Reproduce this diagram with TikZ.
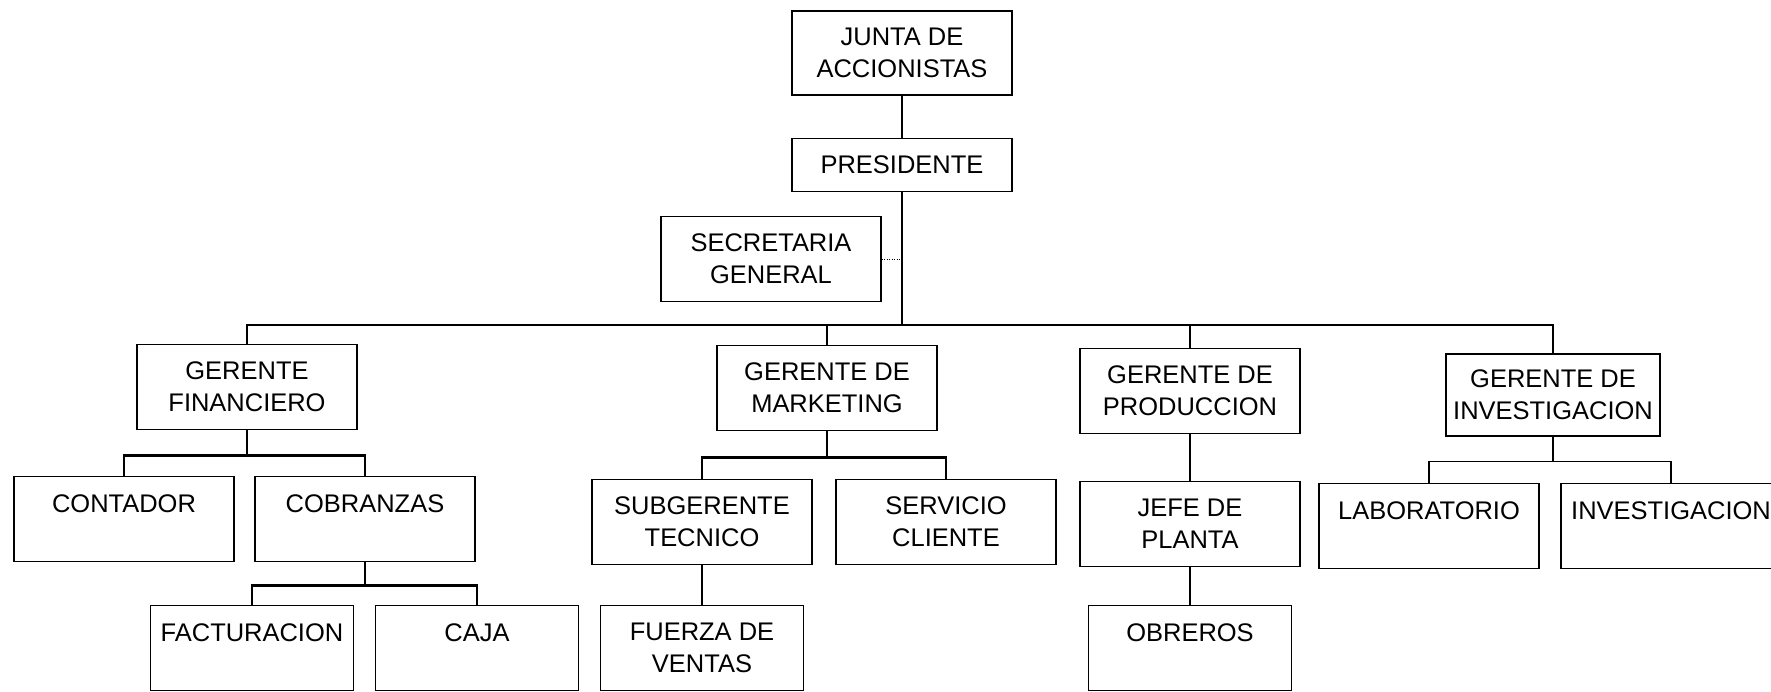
\documentclass[tikz,border=0pt]{standalone}
\usepackage{fontspec}
\setmainfont{Liberation Sans}

\begin{document}
\begin{tikzpicture}[x=0.02cm, y=-0.02cm,
    cuadro/.style={draw, line width=0.9pt, align=center, inner sep=0pt,
      minimum width=4.4cm, minimum height=1.7cm,
      font=\fontsize{14.5}{18}\selectfont},
    linea/.style={line width=0.8pt},
    barra/.style={line width=1.6pt}]

    \useasboundingbox (0,0) rectangle (1771,692);

    % Nivel superior
    \node[cuadro, minimum height=1.68cm] (junta) at (902,53) {JUNTA DE\\ACCIONISTAS};
    \node[cuadro, minimum height=1.06cm] (pres) at (902,165) {PRESIDENTE};
    \node[cuadro] (secre) at (771,259) {SECRETARIA\\GENERAL};

    % Gerencias
    \node[cuadro] (gfin) at (247,387) {GERENTE\\FINANCIERO};
    \node[cuadro] (gmkt) at (827,388) {GERENTE DE\\MARKETING};
    \node[cuadro] (gprod) at (1190,391) {GERENTE DE\\PRODUCCION};
    \node[cuadro, minimum width=4.28cm, minimum height=1.64cm] (ginv) at (1553,395) {GERENTE DE\\INVESTIGACION};

    % Departamentos
    \node[cuadro] (cont) at (124,519) {CONTADOR\\\mbox{}};
    \node[cuadro] (cobr) at (365,519) {COBRANZAS\\\mbox{}};
    \node[cuadro] (subg) at (702,522) {SUBGERENTE\\TECNICO};
    \node[cuadro] (serv) at (946,522) {SERVICIO\\CLIENTE};
    \node[cuadro] (jefe) at (1190,524) {JEFE DE\\PLANTA};
    \node[cuadro] (lab) at (1429,526) {LABORATORIO\\\mbox{}};
    \node[cuadro] (inv) at (1671,526) {INVESTIGACION\\\mbox{}};

    % Secciones
    \def\ancho{4.06cm}
    \node[cuadro, minimum width=\ancho] (fact) at (252,648) {FACTURACION\\\mbox{}};
    \node[cuadro, minimum width=\ancho] (caja) at (477,648) {CAJA\\\mbox{}};
    \node[cuadro, minimum width=\ancho] (fuerza) at (702,648) {FUERZA DE\\VENTAS};
    \node[cuadro, minimum width=\ancho] (obre) at (1190,648) {OBREROS\\\mbox{}};

    % Tronco
    \coordinate (b) at (0,325);
    \draw[linea] (junta) -- (pres);
    \draw[linea] (pres.south) -- (pres.south |- b) coordinate (nudo);
    \draw[densely dotted] (secre.east) -- (secre.east -| nudo);

    % Barra de gerencias
    \draw[barra] (gfin.north) -- (gfin.north |- b) -- (nudo);
    \draw[linea] (nudo) -| (ginv.north);
    \draw[linea] (gmkt.north) -- (gmkt.north |- b);
    \draw[linea] (gprod.north) -- (gprod.north |- b);

    % Subordinados
    \draw[linea] (gfin.south) -- ++(0,25) coordinate (f1);
    \draw[barra] (cont.north) |- (f1) -| (cobr.north);
    \draw[linea] (gmkt.south) -- ++(0,26) coordinate (m1);
    \draw[barra] (subg.north) |- (m1) -| (serv.north);
    \draw[linea] (ginv.south) -- ++(0,25) coordinate (i1);
    \draw[linea] (lab.north) |- (i1) -| (inv.north);
    \draw[linea] (cobr.south) -- ++(0,23) coordinate (c1);
    \draw[barra] (fact.north) |- (c1) -| (caja.north);
    \draw[linea] (gprod) -- (jefe);
    \draw[linea] (subg) -- (fuerza);
    \draw[linea] (jefe) -- (obre);

\end{tikzpicture}
\end{document}
